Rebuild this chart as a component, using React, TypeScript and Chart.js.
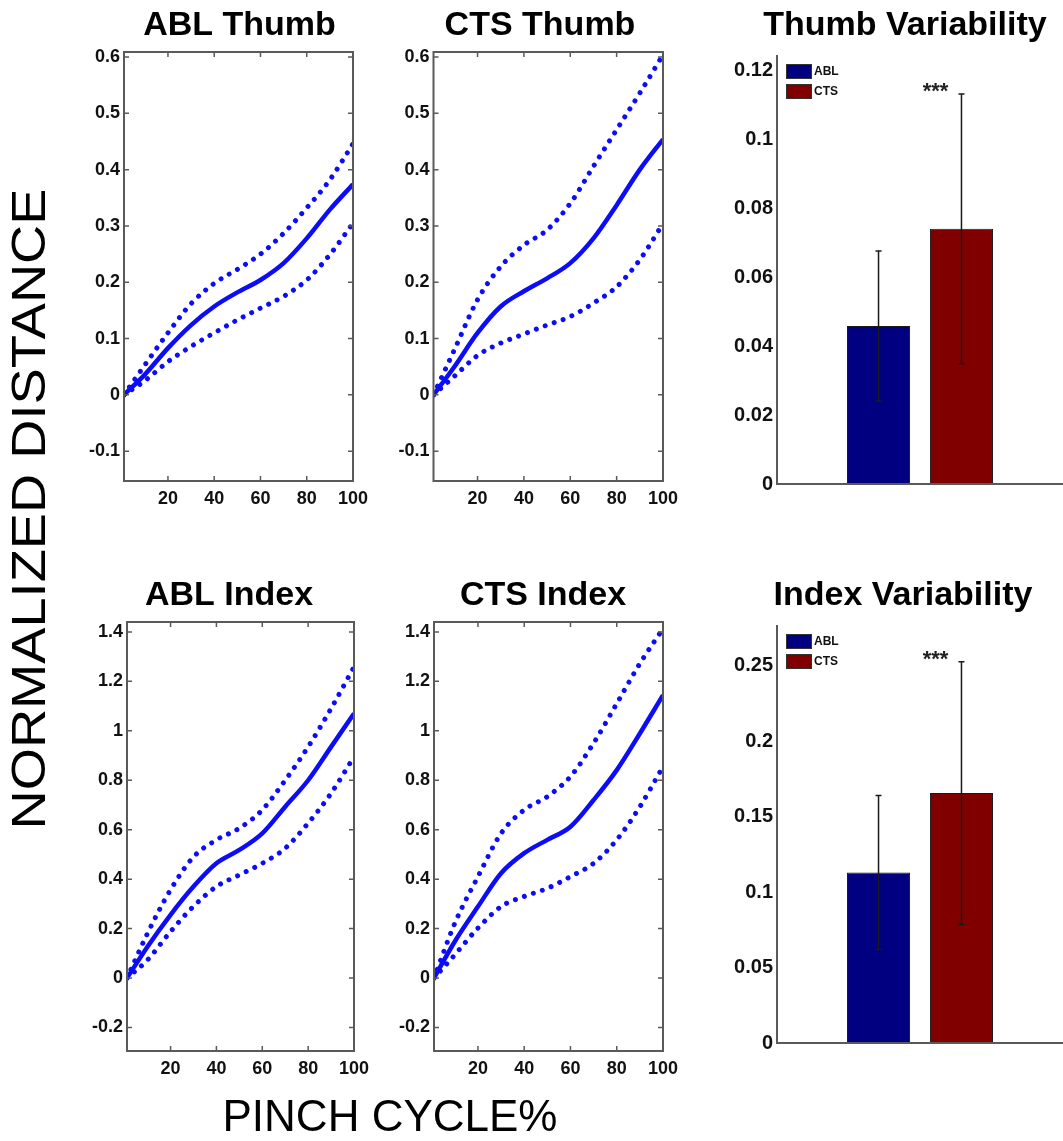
import React, { useEffect, useRef } from 'react';
import { Chart, registerables } from 'chart.js';

Chart.register(...registerables);

// ---------------- DATA ----------------
const pinchPct = [1, 10, 20, 30, 40, 50, 60, 70, 80, 90, 100];
const pinchTicks = [20, 40, 60, 80, 100];

const ablThumbMean = [0, 0.036, 0.083, 0.124, 0.157, 0.182, 0.204, 0.234, 0.278, 0.329, 0.374];
const ablThumbUpper = [0, 0.053, 0.11, 0.162, 0.198, 0.223, 0.25, 0.287, 0.332, 0.382, 0.446];
const ablThumbLower = [0, 0.025, 0.059, 0.086, 0.11, 0.133, 0.154, 0.175, 0.204, 0.249, 0.305];

const ctsThumbMean = [0, 0.05, 0.11, 0.157, 0.184, 0.207, 0.234, 0.278, 0.337, 0.4, 0.454];
const ctsThumbUpper = [0, 0.08, 0.169, 0.228, 0.266, 0.293, 0.34, 0.406, 0.471, 0.536, 0.604];
const ctsThumbLower = [0, 0.033, 0.07, 0.092, 0.108, 0.124, 0.139, 0.163, 0.192, 0.24, 0.304];

const ablIndexMean = [0, 0.128, 0.256, 0.37, 0.464, 0.518, 0.585, 0.693, 0.8, 0.935, 1.07];
const ablIndexUpper = [0, 0.182, 0.357, 0.49, 0.559, 0.606, 0.68, 0.8, 0.935, 1.09, 1.258];
const ablIndexLower = [0, 0.074, 0.188, 0.29, 0.37, 0.417, 0.464, 0.525, 0.626, 0.747, 0.895];

const ctsIndexMean = [0, 0.148, 0.289, 0.424, 0.505, 0.559, 0.612, 0.72, 0.841, 0.989, 1.144];
const ctsIndexUpper = [0, 0.222, 0.41, 0.585, 0.68, 0.734, 0.815, 0.95, 1.11, 1.272, 1.413];
const ctsIndexLower = [0, 0.094, 0.202, 0.289, 0.33, 0.363, 0.41, 0.464, 0.559, 0.693, 0.855];

const thumbTicks = [-0.1, 0, 0.1, 0.2, 0.3, 0.4, 0.5, 0.6];
const indexTicks = [-0.2, 0, 0.2, 0.4, 0.6, 0.8, 1, 1.2, 1.4];

const groups = ['ABL', 'CTS'];
const thumbVarMean = [0.0459, 0.0741];
const thumbVarErr = [0.0218, 0.0392];
const indexVarMean = [0.113, 0.1656];
const indexVarErr = [0.051, 0.087];
const thumbVarTicks = [0, 0.02, 0.04, 0.06, 0.08, 0.1, 0.12];
const indexVarTicks = [0, 0.05, 0.1, 0.15, 0.2, 0.25];
const significance = '***';

// ---------------- STYLE ----------------
const FONT = "'Liberation Sans', Arial, Helvetica, sans-serif";
const BLUE = '#0c0cf6';
const AXIS = '#5a5a5a';
const BAR_COLORS = ['#000080', '#800000'];

type Rect = { l: number; t: number; r: number; b: number };

function fmt(v: number) {
  return String(Math.round(v * 10000) / 10000);
}

function titlePlugin(text: string, tx: number, ty: number, c: Rect) {
  return {
    id: 'panelTitle',
    afterDraw(chart: any) {
      const ctx = chart.ctx;
      ctx.save();
      ctx.fillStyle = '#000';
      ctx.font = `bold 34px ${FONT}`;
      ctx.textAlign = 'center';
      ctx.textBaseline = 'middle';
      ctx.fillText(text, tx - c.l, ty - c.t);
      ctx.restore();
    },
  };
}

const boxPlugin = {
  id: 'boxFrame',
  afterDatasetsDraw(chart: any) {
    const { ctx, chartArea: a, scales } = chart;
    ctx.save();
    ctx.strokeStyle = AXIS;
    ctx.lineWidth = 2;
    ctx.strokeRect(a.left, a.top, a.right - a.left, a.bottom - a.top);
    const tl = 5;
    ctx.lineWidth = 1.5;
    ctx.beginPath();
    for (const t of scales.x.ticks) {
      const px = scales.x.getPixelForValue(t.value);
      ctx.moveTo(px, a.bottom);
      ctx.lineTo(px, a.bottom - tl);
      ctx.moveTo(px, a.top);
      ctx.lineTo(px, a.top + tl);
    }
    for (const t of scales.y.ticks) {
      const py = scales.y.getPixelForValue(t.value);
      ctx.moveTo(a.left, py);
      ctx.lineTo(a.left + tl, py);
      ctx.moveTo(a.right, py);
      ctx.lineTo(a.right - tl, py);
    }
    ctx.stroke();
    ctx.restore();
  },
};

function barExtrasPlugin(errs: number[], label: string) {
  return {
    id: 'barExtras',
    afterDatasetsDraw(chart: any) {
      const { ctx, chartArea: a, scales } = chart;
      const y = scales.y;
      ctx.save();
      // axes (box off)
      ctx.strokeStyle = AXIS;
      ctx.lineWidth = 2;
      ctx.beginPath();
      ctx.moveTo(a.left, a.top);
      ctx.lineTo(a.left, a.bottom);
      ctx.lineTo(a.right, a.bottom);
      ctx.stroke();
      // error bars
      ctx.strokeStyle = '#1a1a1a';
      ctx.lineWidth = 1.5;
      let lastTop = 0;
      let lastX = 0;
      chart.data.datasets.forEach((ds: any, i: number) => {
        const bar = chart.getDatasetMeta(i).data[0];
        const v = ds.data[0];
        const top = y.getPixelForValue(v + errs[i]);
        const bot = y.getPixelForValue(v - errs[i]);
        ctx.beginPath();
        ctx.moveTo(bar.x, top);
        ctx.lineTo(bar.x, bot);
        ctx.moveTo(bar.x - 3, top);
        ctx.lineTo(bar.x + 3, top);
        ctx.moveTo(bar.x - 3, bot);
        ctx.lineTo(bar.x + 3, bot);
        ctx.stroke();
        lastTop = top;
        lastX = bar.x;
      });
      // significance stars
      ctx.fillStyle = '#222';
      ctx.font = `bold 22px ${FONT}`;
      ctx.textAlign = 'center';
      ctx.textBaseline = 'alphabetic';
      ctx.fillText(label, lastX - 26, lastTop + 4);
      // legend
      const lx = a.left + 9;
      const ly = a.top + 9;
      chart.data.datasets.forEach((ds: any, i: number) => {
        const yy = ly + i * 20;
        ctx.fillStyle = ds.backgroundColor;
        ctx.fillRect(lx, yy, 26, 15);
        ctx.strokeStyle = '#333';
        ctx.lineWidth = 1;
        ctx.strokeRect(lx + 0.5, yy + 0.5, 25, 14);
        ctx.fillStyle = '#111';
        ctx.font = `bold 12px ${FONT}`;
        ctx.textAlign = 'left';
        ctx.textBaseline = 'middle';
        ctx.fillText(ds.label, lx + 28, yy + 8);
      });
      ctx.restore();
    },
  };
}

const tickFont = (size: number) => ({ family: FONT, size, weight: 'bold' as const });

function setTicks(values: number[]) {
  return (scale: any) => {
    scale.ticks = values.map((v) => ({ value: v }));
  };
}

type LineProps = {
  c: Rect;
  area: Rect;
  title: string;
  titleX: number;
  titleY: number;
  mean: number[];
  upper: number[];
  lower: number[];
  yMin: number;
  yMax: number;
  yTicks: number[];
};

function LinePanel(p: LineProps) {
  const ref = useRef<HTMLCanvasElement>(null);
  useEffect(() => {
    const { c, area } = p;
    const toPts = (arr: number[]) => pinchPct.map((x, i) => ({ x, y: arr[i] }));
    const dotted = {
      borderColor: BLUE,
      borderWidth: 5,
      borderDash: [0.01, 9.5],
      borderCapStyle: 'round' as const,
      pointRadius: 0,
      cubicInterpolationMode: 'monotone' as const,
      fill: false,
    };
    const chart = new Chart(ref.current as HTMLCanvasElement, {
      type: 'line',
      data: {
        datasets: [
          { ...dotted, label: 'upper', data: toPts(p.upper) },
          {
            label: 'mean',
            data: toPts(p.mean),
            borderColor: BLUE,
            borderWidth: 4.5,
            pointRadius: 0,
            cubicInterpolationMode: 'monotone',
            fill: false,
          },
          { ...dotted, label: 'lower', data: toPts(p.lower) },
        ],
      },
      options: {
        animation: false,
        responsive: false,
        maintainAspectRatio: false,
        events: [],
        layout: { padding: { top: area.t - c.t, right: c.r - area.r, left: 0, bottom: 0 } },
        plugins: { legend: { display: false }, tooltip: { enabled: false }, title: { display: false } },
        scales: {
          x: {
            type: 'linear',
            min: 1,
            max: 100,
            grid: { display: false, drawTicks: false },
            border: { display: false },
            afterBuildTicks: setTicks(pinchTicks),
            afterFit: (s: any) => {
              s.height = c.b - area.b;
            },
            ticks: {
              font: tickFont(18),
              color: '#111',
              padding: 7,
              maxRotation: 0,
              autoSkip: false,
              callback: (v: any) => fmt(Number(v)),
            },
          },
          y: {
            type: 'linear',
            min: p.yMin,
            max: p.yMax,
            grid: { display: false, drawTicks: false },
            border: { display: false },
            afterBuildTicks: setTicks(p.yTicks),
            afterFit: (s: any) => {
              s.width = area.l - c.l;
            },
            ticks: {
              font: tickFont(18),
              color: '#111',
              padding: 4,
              autoSkip: false,
              callback: (v: any) => fmt(Number(v)),
            },
          },
        },
      } as any,
      plugins: [boxPlugin, titlePlugin(p.title, p.titleX, p.titleY, c)],
    });
    return () => chart.destroy();
  }, []);
  const { c } = p;
  return (
    <canvas
      ref={ref}
      width={c.r - c.l}
      height={c.b - c.t}
      style={{ position: 'absolute', left: c.l, top: c.t, width: c.r - c.l, height: c.b - c.t }}
    />
  );
}

type BarProps = {
  c: Rect;
  area: Rect;
  title: string;
  titleX: number;
  titleY: number;
  means: number[];
  errs: number[];
  yMax: number;
  yTicks: number[];
};

function BarPanel(p: BarProps) {
  const ref = useRef<HTMLCanvasElement>(null);
  useEffect(() => {
    const { c, area } = p;
    const chart = new Chart(ref.current as HTMLCanvasElement, {
      type: 'bar',
      data: {
        labels: [''],
        datasets: groups.map((g, i) => ({
          label: g,
          data: [p.means[i]],
          backgroundColor: BAR_COLORS[i],
          borderColor: '#1a1a1a',
          borderWidth: 1,
          categoryPercentage: 0.58,
          barPercentage: 0.76,
        })),
      },
      options: {
        animation: false,
        responsive: false,
        maintainAspectRatio: false,
        events: [],
        layout: { padding: { top: area.t - c.t, right: c.r - area.r, left: 0, bottom: 0 } },
        plugins: { legend: { display: false }, tooltip: { enabled: false }, title: { display: false } },
        scales: {
          x: {
            grid: { display: false, drawTicks: false },
            border: { display: false },
            ticks: { display: false },
            afterFit: (s: any) => {
              s.height = c.b - area.b;
            },
          },
          y: {
            type: 'linear',
            min: 0,
            max: p.yMax,
            grid: { display: false, drawTicks: false },
            border: { display: false },
            afterBuildTicks: setTicks(p.yTicks),
            afterFit: (s: any) => {
              s.width = area.l - c.l;
            },
            ticks: {
              font: tickFont(20),
              color: '#111',
              padding: 4,
              autoSkip: false,
              callback: (v: any) => fmt(Number(v)),
            },
          },
        },
      } as any,
      plugins: [barExtrasPlugin(p.errs, significance), titlePlugin(p.title, p.titleX, p.titleY, c)],
    });
    return () => chart.destroy();
  }, []);
  const { c } = p;
  return (
    <canvas
      ref={ref}
      width={c.r - c.l}
      height={c.b - c.t}
      style={{ position: 'absolute', left: c.l, top: c.t, width: c.r - c.l, height: c.b - c.t }}
    />
  );
}

export default function App() {
  return (
    <div
      style={{
        position: 'absolute',
        left: 0,
        top: 0,
        width: 1063,
        height: 1141,
        overflow: 'hidden',
        background: '#fff',
        fontFamily: FONT,
      }}
    >
      <LinePanel
        c={{ l: 58, t: 0, r: 376, b: 530 }}
        area={{ l: 124, t: 52, r: 353, b: 481 }}
        title="ABL Thumb"
        titleX={239.5}
        titleY={26}
        mean={ablThumbMean}
        upper={ablThumbUpper}
        lower={ablThumbLower}
        yMin={-0.153}
        yMax={0.609}
        yTicks={thumbTicks}
      />
      <LinePanel
        c={{ l: 368, t: 0, r: 686, b: 530 }}
        area={{ l: 433.5, t: 52, r: 663, b: 481 }}
        title="CTS Thumb"
        titleX={540}
        titleY={26}
        mean={ctsThumbMean}
        upper={ctsThumbUpper}
        lower={ctsThumbLower}
        yMin={-0.153}
        yMax={0.609}
        yTicks={thumbTicks}
      />
      <LinePanel
        c={{ l: 58, t: 570, r: 377, b: 1100 }}
        area={{ l: 127, t: 622, r: 354, b: 1051 }}
        title="ABL Index"
        titleX={229}
        titleY={596}
        mean={ablIndexMean}
        upper={ablIndexUpper}
        lower={ablIndexLower}
        yMin={-0.295}
        yMax={1.44}
        yTicks={indexTicks}
      />
      <LinePanel
        c={{ l: 368, t: 570, r: 686, b: 1100 }}
        area={{ l: 434, t: 622, r: 663, b: 1051 }}
        title="CTS Index"
        titleX={543}
        titleY={596}
        mean={ctsIndexMean}
        upper={ctsIndexUpper}
        lower={ctsIndexLower}
        yMin={-0.295}
        yMax={1.44}
        yTicks={indexTicks}
      />
      <BarPanel
        c={{ l: 700, t: 0, r: 1063, b: 530 }}
        area={{ l: 777, t: 55, r: 1063, b: 484 }}
        title="Thumb Variability"
        titleX={905}
        titleY={26}
        means={thumbVarMean}
        errs={thumbVarErr}
        yMax={0.1246}
        yTicks={thumbVarTicks}
      />
      <BarPanel
        c={{ l: 700, t: 570, r: 1063, b: 1100 }}
        area={{ l: 777, t: 625, r: 1063, b: 1043 }}
        title="Index Variability"
        titleX={903}
        titleY={596}
        means={indexVarMean}
        errs={indexVarErr}
        yMax={0.277}
        yTicks={indexVarTicks}
      />
      <div
        style={{
          position: 'absolute',
          left: 29,
          top: 509,
          transform: 'translate(-50%, -50%) rotate(-90deg) scaleX(1.13)',
          fontSize: 48,
          lineHeight: 1,
          whiteSpace: 'nowrap',
          color: '#000',
        }}
      >
        NORMALIZED DISTANCE
      </div>
      <div
        style={{
          position: 'absolute',
          left: 390,
          top: 1116,
          transform: 'translate(-50%, -50%)',
          fontSize: 44,
          lineHeight: 1,
          whiteSpace: 'nowrap',
          color: '#000',
        }}
      >
        PINCH CYCLE%
      </div>
    </div>
  );
}
